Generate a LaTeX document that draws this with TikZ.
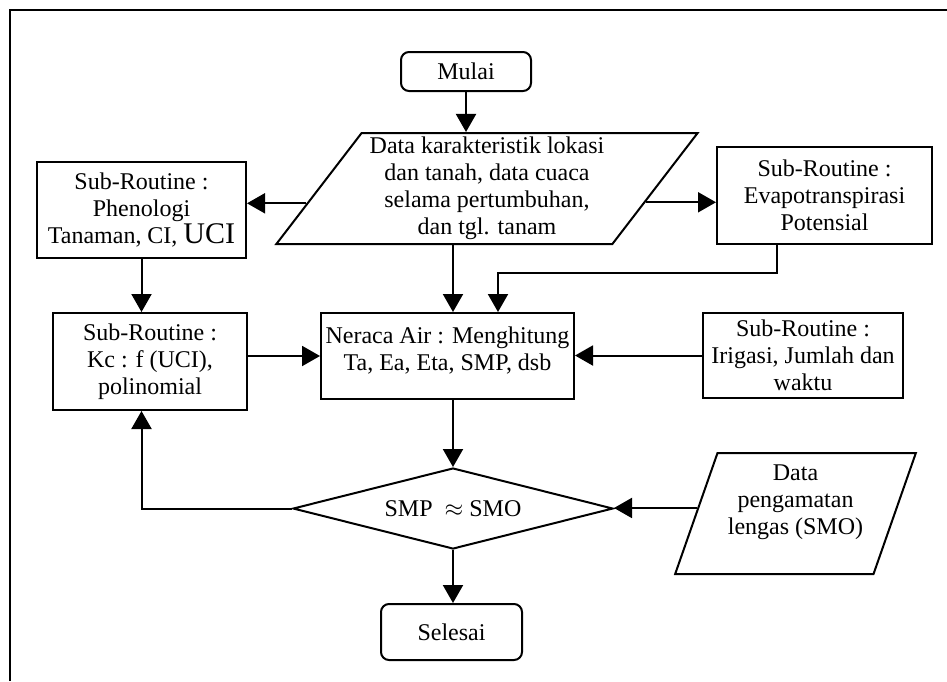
\documentclass[tikz,border=0pt]{standalone}
\usepackage{fontspec}
\setmainfont{Liberation Serif}
\usetikzlibrary{shapes.geometric,arrows.meta,calc}

\begin{document}
\begin{tikzpicture}[x=0.5pt,y=-0.5pt,line width=1pt,
  font=\fontsize{12}{13.5}\selectfont,
  box/.style={draw,align=center,inner sep=2pt},
  term/.style={draw,rounded corners=4pt,align=center},
  io/.style={draw,trapezium,trapezium stretches=true,align=center,inner sep=0pt},
  arr/.style={-{Triangle[width=10pt,length=9pt]}}]

\useasboundingbox (0,0) rectangle (947,681);
\draw[line width=0.7pt] (10,681) -- (10,10) -- (947,10);

\node[term,minimum width=65pt,minimum height=19.5pt] (mulai) at (466,71.5) {Mulai};
\node[io,trapezium left angle=52.2,trapezium right angle=127.8,minimum width=211pt,minimum height=55.5pt] (data) at (487,188.5) {Data karakteristik lokasi\\dan tanah, data cuaca\\selama pertumbuhan,\\dan tgl. tanam};
\node[box,minimum width=104.5pt,minimum height=48pt] (phen) at (141.5,210) {Sub-Routine :\\Phenologi\\Tanaman, CI, {\fontsize{15}{13.5}\selectfont UCI}};
\node[box,minimum width=107.5pt,minimum height=48.5pt] (evap) at (824.5,195.5) {Sub-Routine :\\Evapotranspirasi\\Potensial};
\node[box,minimum width=97pt,minimum height=48.5pt] (kc) at (150,361.5) {Sub-Routine :\\Kc : f (UCI),\\polinomial};
\node[box,minimum width=126.5pt,minimum height=43pt] (neraca) at (447.5,356) {Neraca Air : Menghitung\\Ta, Ea, Eta, SMP, dsb\\[-6pt]\mbox{}};
\node[box,minimum width=100pt,minimum height=42.5pt] (irig) at (803,355.5) {Sub-Routine :\\Irigasi, Jumlah dan\\waktu};
\node[draw,diamond,aspect=4,inner sep=0pt,minimum width=160pt,minimum height=40.5pt] (cek) at (453,508.5) {SMP\ \ $\approx$ SMO};
\node[io,trapezium left angle=69.2,trapezium right angle=110.8,minimum width=120.5pt,minimum height=60.5pt] (obs) at (795.5,513.5) {Data\\pengamatan\\lengas (SMO)\\\mbox{}};
\node[term,minimum width=70.5pt,minimum height=28pt] (selesai) at (451.5,632) {Selesai};

\coordinate (dl) at ($(data.bottom left corner)!0.369!(data.top left corner)$);
\coordinate (dr) at ($(data.bottom right corner)!0.378!(data.top right corner)$);
\coordinate (ol) at ($(obs.bottom left corner)!0.545!(obs.top left corner)$);

\draw[arr] (mulai) -- (mulai |- data.north);
\draw[arr] (dl) -- (dl -| phen.east);
\draw[arr] (dr) -- (dr -| evap.west);
\draw[arr] (data.south -| cek.north) -- (neraca.north -| cek.north);
\draw[arr] ([xshift=-23.75pt]evap.south) -- ++(0,28) -| ([xshift=25.25pt]neraca.north);
\draw[arr] (phen.south) -- (phen.south |- kc.north);
\draw[arr] (neraca.west -| kc.east) -- (neraca.west);
\draw[arr] (irig.west) -- (irig.west -| neraca.east);
\draw[arr] (neraca.south -| cek.north) -- (cek.north);
\draw[arr] (cek.west) -| (phen.south |- kc.south);
\draw[arr] (ol) -- (ol -| cek.east);
\draw[arr] (cek.south) -- (selesai.north -| cek.south);

\end{tikzpicture}
\end{document}
